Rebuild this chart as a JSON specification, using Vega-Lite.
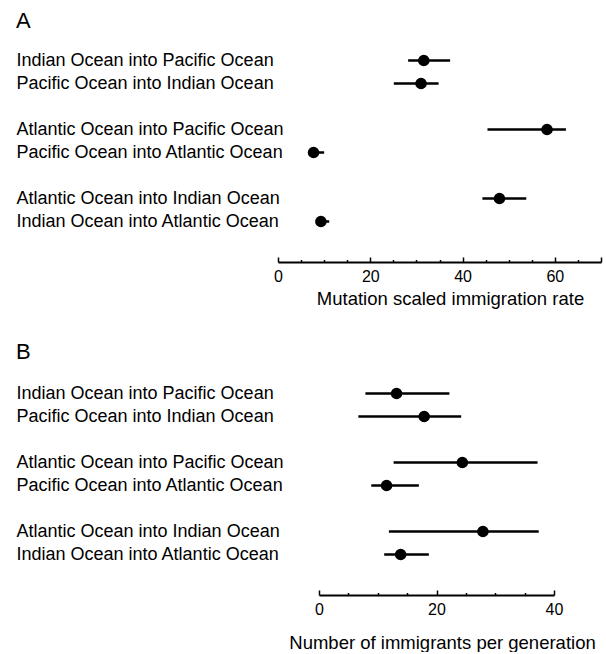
{
  "$schema": "https://vega.github.io/schema/vega-lite/v6.json",
  "padding": {"left": 16, "top": 10, "right": 5, "bottom": 0},
  "background": "white",
  "config": {
    "font": "Liberation Sans",
    "view": {"stroke": null},
    "axis": {"labelColor": "black", "titleColor": "black", "domainColor": "black", "tickColor": "black", "labelFont": "Liberation Sans", "titleFont": "Liberation Sans", "grid": false}
  },
  "datasets": {
    "A": [
      {"route": "Indian Ocean into Pacific Ocean", "rate": 31.6, "lo": 28.2, "hi": 37.3},
      {"route": "Pacific Ocean into Indian Ocean", "rate": 31.0, "lo": 25.1, "hi": 34.8},
      {"route": "Atlantic Ocean into Pacific Ocean", "rate": 58.3, "lo": 45.4, "hi": 62.4},
      {"route": "Pacific Ocean into Atlantic Ocean", "rate": 7.7, "lo": 7.0, "hi": 10.0},
      {"route": "Atlantic Ocean into Indian Ocean", "rate": 48.0, "lo": 44.3, "hi": 53.8},
      {"route": "Indian Ocean into Atlantic Ocean", "rate": 9.3, "lo": 8.5, "hi": 11.1}
    ],
    "B": [
      {"route": "Indian Ocean into Pacific Ocean", "rate": 13.2, "lo": 7.9, "hi": 22.2},
      {"route": "Pacific Ocean into Indian Ocean", "rate": 17.9, "lo": 6.7, "hi": 24.2},
      {"route": "Atlantic Ocean into Pacific Ocean", "rate": 24.4, "lo": 12.7, "hi": 37.2},
      {"route": "Pacific Ocean into Atlantic Ocean", "rate": 11.5, "lo": 8.9, "hi": 17.0},
      {"route": "Atlantic Ocean into Indian Ocean", "rate": 27.9, "lo": 11.9, "hi": 37.4},
      {"route": "Indian Ocean into Atlantic Ocean", "rate": 13.9, "lo": 11.1, "hi": 18.7}
    ]
  },
  "bounds": "full",
  "spacing": 33,
  "vconcat": [
    {
      "title": {"text": "A", "anchor": "start", "frame": "bounds", "fontSize": 22, "fontWeight": "normal", "offset": 16, "color": "black"},
      "width": 323,
      "height": 184,
      "data": {"name": "A"},
      "resolve": {"axis": {"x": "independent"}},
      "encoding": {
        "y": {
          "field": "route", "type": "nominal", "sort": null,
          "scale": {"type": "point", "padding": 0.5, "domain": ["Indian Ocean into Pacific Ocean", "Pacific Ocean into Indian Ocean", " ", "Atlantic Ocean into Pacific Ocean", "Pacific Ocean into Atlantic Ocean", "  ", "Atlantic Ocean into Indian Ocean", "Indian Ocean into Atlantic Ocean"]},
          "axis": {"title": null, "ticks": false, "tickSize": 0, "domain": false, "labelAlign": "left", "labelPadding": 262, "labelFontSize": 18, "labelLimit": 400}
        }
      },
      "layer": [
        {
          "mark": {"type": "rule", "color": "black", "strokeWidth": 2.5},
          "encoding": {
            "x": {
              "field": "lo", "type": "quantitative",
              "scale": {"domain": [0, 70], "nice": false, "zero": false},
              "axis": {
                "orient": "bottom",
                "title": "Mutation scaled immigration rate",
                "values": [0, 20, 40, 60, 70],
                "labelExpr": "datum.value % 20 === 0 ? datum.label : ''",
                "tickSize": -5,
                "tickWidth": 1.5, "domainWidth": 1.8, "offset": 29,
                "labelFontSize": 16, "titleFontSize": 18.5, "titleFontWeight": "normal",
                "titleX": 172,
                "labelPadding": 11, "titlePadding": 5, "labelFlush": false, "labelOverlap": false
              }
            },
            "x2": {"field": "hi"}
          }
        },
        {
          "mark": {"type": "point", "filled": true, "shape": "circle", "color": "black", "size": 135, "opacity": 1},
          "encoding": {
            "x": {
              "field": "rate", "type": "quantitative",
              "axis": {
                "orient": "bottom", "title": null, "labels": false, "domain": false,
                "values": [5, 10, 15, 25, 30, 35, 45, 50, 55, 65],
                "tickSize": -2.5, "tickWidth": 1.5, "offset": 29
              }
            }
          }
        }
      ]
    },
    {
      "title": {"text": "B", "anchor": "start", "frame": "bounds", "fontSize": 22, "fontWeight": "normal", "offset": 18, "color": "black"},
      "width": 276,
      "height": 184,
      "data": {"name": "B"},
      "resolve": {"axis": {"x": "independent"}},
      "encoding": {
        "y": {
          "field": "route", "type": "nominal", "sort": null,
          "scale": {"type": "point", "padding": 0.5, "domain": ["Indian Ocean into Pacific Ocean", "Pacific Ocean into Indian Ocean", " ", "Atlantic Ocean into Pacific Ocean", "Pacific Ocean into Atlantic Ocean", "  ", "Atlantic Ocean into Indian Ocean", "Indian Ocean into Atlantic Ocean"]},
          "axis": {"title": null, "ticks": false, "tickSize": 0, "domain": false, "labelAlign": "left", "labelPadding": 262, "labelFontSize": 18, "labelLimit": 400}
        }
      },
      "layer": [
        {
          "mark": {"type": "rule", "color": "black", "strokeWidth": 2.5},
          "encoding": {
            "x": {
              "field": "lo", "type": "quantitative",
              "scale": {"domain": [0, 40], "nice": false, "zero": false, "range": [41, 276]},
              "axis": {
                "orient": "bottom",
                "title": "Number of immigrants per generation",
                "values": [0, 20, 40],
                "tickSize": -5,
                "tickWidth": 1.5, "domainWidth": 1.8, "offset": 29,
                "labelFontSize": 16, "titleFontSize": 18.5, "titleFontWeight": "normal",
                "titleX": 164,
                "labelPadding": 11, "titlePadding": 16, "labelFlush": false, "labelOverlap": false
              }
            },
            "x2": {"field": "hi"}
          }
        },
        {
          "mark": {"type": "point", "filled": true, "shape": "circle", "color": "black", "size": 135, "opacity": 1},
          "encoding": {
            "x": {
              "field": "rate", "type": "quantitative",
              "axis": {
                "orient": "bottom", "title": null, "labels": false, "domain": false,
                "values": [5, 10, 15, 25, 30, 35],
                "tickSize": -2.5, "tickWidth": 1.5, "offset": 29
              }
            }
          }
        }
      ]
    }
  ]
}
